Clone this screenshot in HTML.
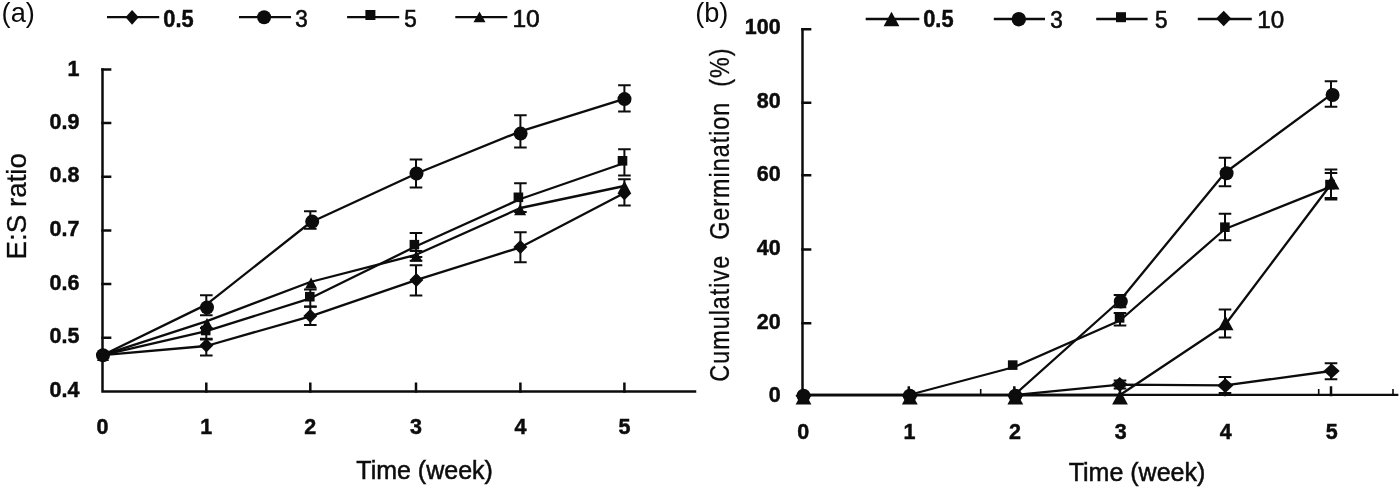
<!DOCTYPE html>
<html lang="en">
<head>
<meta charset="utf-8">
<title>E:S ratio and cumulative germination over time</title>
<style>
html,body{margin:0;padding:0;background:#fff;}
body{width:1400px;height:488px;overflow:hidden;}
svg{display:block;will-change:transform;}
text{font-family:"Liberation Sans",Arial,sans-serif;fill:#0c0c0c;}
.tk{font-size:22.4px;font-weight:bold;stroke:#0c0c0c;stroke-width:0.5px;}
.lgb{font-size:23.2px;font-weight:bold;stroke:#0c0c0c;stroke-width:0.5px;}
.lgr{font-size:23px;stroke:#0c0c0c;stroke-width:0.6px;}
.ttl{font-size:27.8px;stroke:#0c0c0c;stroke-width:0.3px;}
.pl{font-size:27.2px;}
.xt{font-size:25px;stroke:#0c0c0c;stroke-width:0.5px;}
.axis{fill:none;stroke:#0c0c0c;stroke-width:2.5;stroke-linecap:square;}
.thin{fill:none;stroke:#0c0c0c;stroke-width:1.6;}
.ln{fill:none;stroke:#0c0c0c;stroke-width:2.3;stroke-linejoin:round;}
.eb{fill:none;stroke:#0c0c0c;stroke-width:2;}
.mk{fill:#0c0c0c;stroke:none;}
</style>
</head>
<body>
<svg width="1400" height="488" viewBox="0 0 1400 488">
<rect width="1400" height="488" fill="#fff"/>
<g id="chart-a">
<path class="axis" d="M102.5 69.4V391.4H695"/>
<path class="axis" d="M102.5 337.73h7.6M102.5 284.07h7.6M102.5 230.4h7.6M102.5 176.73h7.6M102.5 123.07h7.6M102.5 69.4h7.6M206.3 391.4v-7.6M310.3 391.4v-7.6M416 391.4v-7.6M520.4 391.4v-7.6M624.4 391.4v-7.6"/>
<text class="tk" text-anchor="end" transform="translate(79.4 397.1) scale(0.96 1)">0.4</text>
<text class="tk" text-anchor="end" transform="translate(79.4 343.43) scale(0.96 1)">0.5</text>
<text class="tk" text-anchor="end" transform="translate(79.4 289.77) scale(0.96 1)">0.6</text>
<text class="tk" text-anchor="end" transform="translate(79.4 236.1) scale(0.96 1)">0.7</text>
<text class="tk" text-anchor="end" transform="translate(79.4 182.43) scale(0.96 1)">0.8</text>
<text class="tk" text-anchor="end" transform="translate(79.4 128.77) scale(0.96 1)">0.9</text>
<text class="tk" text-anchor="end" transform="translate(79.4 76) scale(0.96 1)">1</text>
<text class="tk" text-anchor="middle" transform="translate(102.5 434.2) scale(0.96 1)">0</text>
<text class="tk" text-anchor="middle" transform="translate(206.3 434.2) scale(0.96 1)">1</text>
<text class="tk" text-anchor="middle" transform="translate(310.3 434.2) scale(0.96 1)">2</text>
<text class="tk" text-anchor="middle" transform="translate(416 434.2) scale(0.96 1)">3</text>
<text class="tk" text-anchor="middle" transform="translate(520.4 434.2) scale(0.96 1)">4</text>
<text class="tk" text-anchor="middle" transform="translate(624.4 434.2) scale(0.96 1)">5</text>
<path class="ln" d="M102.5 355.2 L206.3 346 L310.3 316.3 L416 280.2 L520.4 247.3 L624.4 193"/>
<g class="eb"><path d="M206.3 338.8V355.5M200 338.8H212.6M200 355.5H212.6"/><path d="M310.3 306.8V325.1M304 306.8H316.6M304 325.1H316.6"/><path d="M416 265.2V295.5M409.7 265.2H422.3M409.7 295.5H422.3"/><path d="M520.4 232.2V262.3M514.1 232.2H526.7M514.1 262.3H526.7"/><path d="M624.4 179.2V205.4M618.1 179.2H630.7M618.1 205.4H630.7"/></g>
<g class="mk"><polygon points="103,348.3 110,355.3 103,362.3 96,355.3"/><polygon points="206.3,338.4 213.3,345.4 206.3,352.4 199.3,345.4"/><polygon points="310.3,309 317.3,316 310.3,323 303.3,316"/><polygon points="416.4,272.9 423.4,279.9 416.4,286.9 409.4,279.9"/><polygon points="520.4,240 527.4,247 520.4,254 513.4,247"/><polygon points="624.4,186.2 631.4,193.2 624.4,200.2 617.4,193.2"/></g>
<path class="ln" d="M102.5 355.2 L206.3 321.3 L310.3 282 L416 254.8 L520.4 208 L624.4 186"/>
<g class="eb"><path d="M416 251V260.7M409.7 251H422.3M409.7 260.7H422.3"/></g>
<g class="mk"><polygon points="103,349.7 109,360.9 97,360.9"/><polygon points="207,317.9 213,329.1 201,329.1"/><polygon points="311.1,277.4 317.1,288.6 305.1,288.6"/><polygon points="416.3,250.4 422.3,261.6 410.3,261.6"/><polygon points="520.1,204 526.1,215.2 514.1,215.2"/><polygon points="624.4,180.7 630.4,191.9 618.4,191.9"/></g>
<path class="ln" d="M102.5 355.2 L206.3 331.2 L310.3 298.3 L416 246.3 L520.4 199 L624.4 163"/>
<g class="eb"><path d="M206.3 328V339.5M200 328H212.6M200 339.5H212.6"/><path d="M310.3 289.5V306.4M304 289.5H316.6M304 306.4H316.6"/><path d="M416 232.9V257M409.7 232.9H422.3M409.7 257H422.3"/><path d="M520.4 183.2V212M514.1 183.2H526.7M514.1 212H526.7"/><path d="M624.4 149.2V175.4M618.1 149.2H630.7M618.1 175.4H630.7"/></g>
<g class="mk"><rect x="98.2" y="350.5" width="9.6" height="9.6"/><rect x="200.9" y="325.7" width="9.6" height="9.6"/><rect x="305" y="291.9" width="9.6" height="9.6"/><rect x="409.6" y="239.9" width="9.6" height="9.6"/><rect x="513.6" y="192.5" width="9.6" height="9.6"/><rect x="617.7" y="156" width="9.6" height="9.6"/></g>
<path class="ln" d="M102.5 355.2 L206.3 304.6 L310.3 222.5 L416 173.7 L520.4 131.4 L624.4 98.8"/>
<g class="eb"><path d="M206.3 295.3V315.2M200 295.3H212.6M200 315.2H212.6"/><path d="M310.3 211.3V228.8M304 211.3H316.6M304 228.8H316.6"/><path d="M416 159.4V187.6M409.7 159.4H422.3M409.7 187.6H422.3"/><path d="M520.4 115.2V147.5M514.1 115.2H526.7M514.1 147.5H526.7"/><path d="M624.4 85.2V111.4M618.1 85.2H630.7M618.1 111.4H630.7"/></g>
<g class="mk"><circle cx="103" cy="355.3" r="7"/><circle cx="207" cy="307.5" r="7"/><circle cx="312.2" cy="221.6" r="7"/><circle cx="416.5" cy="173.5" r="7"/><circle cx="520.6" cy="133.6" r="7"/><circle cx="624.5" cy="99.1" r="7"/></g>
<path class="ln" d="M107 17.2H159.2"/>
<g class="mk"><polygon points="132.1,9.9 138.7,17.3 132.1,24.7 125.5,17.3"/></g>
<text class="lgb" transform="translate(163.3 26.5) scale(0.94 1)">0.5</text>
<path class="ln" d="M239 17.2H291"/>
<g class="mk"><circle cx="264.1" cy="17.3" r="7"/></g>
<text class="lgr" transform="translate(295.3 26.5) scale(0.98 1)">3</text>
<path class="ln" d="M347.1 17.2H399.2"/>
<g class="mk"><rect x="365.4" y="10" width="10" height="10"/></g>
<text class="lgr" transform="translate(404.2 26.5) scale(0.98 1)">5</text>
<path class="ln" d="M455.3 17.2H507.3"/>
<g class="mk"><polygon points="479.5,11.4 485.5,22.2 473.5,22.2"/></g>
<text class="lgr" transform="translate(512.4 26.5) scale(1.07 1)">10</text>
<text class="pl" x="1.6" y="22.4">(a)</text>
<text class="ttl" text-anchor="middle" transform="translate(25.6 206.3) rotate(-90)">E:S ratio</text>
<text class="xt" text-anchor="middle" x="424.6" y="478.6">Time (week)</text>
</g>
<g id="chart-b">
<path class="axis" d="M802.5 29.2V395"/>
<path class="axis" style="stroke-width:2.1" d="M802.5 394.9H1397.3"/>
<path class="axis" d="M802.5 323.3h7.6M802.5 249.5h7.6M802.5 175.2h7.6M802.5 102.8h7.6M802.5 29.2h7.6M908.8 395v-7.6M1014.3 395v-7.6M1120 395v-7.6M1225 395v-7.6M1331 395v-7.6"/>
<path class="thin" d="M980.7 395v-6M1318.7 395v-6M1393 395v-6"/>
<text class="tk" text-anchor="end" transform="translate(780.6 401.9) scale(0.96 1)">0</text>
<text class="tk" text-anchor="end" transform="translate(780.6 328.7) scale(0.96 1)">20</text>
<text class="tk" text-anchor="end" transform="translate(780.6 254.9) scale(0.96 1)">40</text>
<text class="tk" text-anchor="end" transform="translate(780.6 180.6) scale(0.96 1)">60</text>
<text class="tk" text-anchor="end" transform="translate(780.6 108.2) scale(0.96 1)">80</text>
<text class="tk" text-anchor="end" transform="translate(780.6 33.9) scale(0.96 1)">100</text>
<text class="tk" text-anchor="middle" transform="translate(803.2 438.8) scale(0.96 1)">0</text>
<text class="tk" text-anchor="middle" transform="translate(909.5 438.8) scale(0.96 1)">1</text>
<text class="tk" text-anchor="middle" transform="translate(1015 438.8) scale(0.96 1)">2</text>
<text class="tk" text-anchor="middle" transform="translate(1120.7 438.8) scale(0.96 1)">3</text>
<text class="tk" text-anchor="middle" transform="translate(1225.7 438.8) scale(0.96 1)">4</text>
<text class="tk" text-anchor="middle" transform="translate(1331.7 438.8) scale(0.96 1)">5</text>
<path class="ln" style="stroke-width:2.8" d="M802.5 395.2H1120"/>
<path class="ln" d="M1120 395 L1225 325 L1331 184.3"/>
<g class="eb"><path d="M1225 309.4V337.4M1218.7 309.4H1231.3M1218.7 337.4H1231.3"/><path d="M1331 169.4V198M1324.7 169.4H1337.3M1324.7 198H1337.3"/></g>
<g class="mk"><polygon points="803.5,390.1 811.4,404.5 795.6,404.5"/><polygon points="909.8,390.1 917.7,404.5 901.9,404.5"/><polygon points="1015.3,390.1 1023.2,404.5 1007.4,404.5"/><polygon points="1120,390.1 1127.9,404.5 1112.1,404.5"/><polygon points="1225.6,315.8 1233.5,330.2 1217.7,330.2"/><polygon points="1331.6,175.2 1339.5,189.6 1323.7,189.6"/></g>
<path class="ln" d="M1014.3 395 L1120 300.5 L1225 172.7 L1331 94.6"/>
<g class="eb"><path d="M1120 295V307.3M1113.7 295H1126.3M1113.7 307.3H1126.3"/><path d="M1225 157.7V186.2M1218.7 157.7H1231.3M1218.7 186.2H1231.3"/><path d="M1331 81.3V106.8M1324.7 81.3H1337.3M1324.7 106.8H1337.3"/></g>
<g class="mk"><circle cx="803.5" cy="395.8" r="7"/><circle cx="909.8" cy="395.8" r="7"/><circle cx="1015.3" cy="395.8" r="7"/><circle cx="1120.8" cy="301.5" r="7"/><circle cx="1226.6" cy="173.2" r="7"/><circle cx="1332.6" cy="95" r="7"/></g>
<path class="ln" d="M908.8 395 L1014.3 367 L1120 320.5 L1225 229 L1331 186.6"/>
<g class="eb"><path d="M1120 313V325.6M1113.7 313H1126.3M1113.7 325.6H1126.3"/><path d="M1225 213.7V240.2M1218.7 213.7H1231.3M1218.7 240.2H1231.3"/><path d="M1331 173V199.6M1324.7 173H1337.3M1324.7 199.6H1337.3"/></g>
<g class="mk"><rect x="798.7" y="391" width="9.6" height="9.6"/><rect x="905" y="391" width="9.6" height="9.6"/><rect x="1007.9" y="360.3" width="9.6" height="9.6"/><rect x="1114.8" y="313.1" width="9.6" height="9.6"/><rect x="1220.1" y="222.4" width="9.6" height="9.6"/><rect x="1325.2" y="179.8" width="9.6" height="9.6"/></g>
<path class="ln" d="M1014.3 395 L1120 384.6 L1225 385.4 L1331 371"/>
<g class="eb"><path d="M1120 380.5V388.5M1113.7 380.5H1126.3M1113.7 388.5H1126.3"/><path d="M1225 377V393M1218.7 377H1231.3M1218.7 393H1231.3"/><path d="M1331 363.2V379.2M1324.7 363.2H1337.3M1324.7 379.2H1337.3"/></g>
<g class="mk"><polygon points="803.5,388.4 811.6,395.8 803.5,403.2 795.4,395.8"/><polygon points="909.8,388.4 917.9,395.8 909.8,403.2 901.7,395.8"/><polygon points="1015.3,388.4 1023.4,395.8 1015.3,403.2 1007.2,395.8"/><polygon points="1119.7,377 1127.8,384.4 1119.7,391.8 1111.6,384.4"/><polygon points="1225.3,378.2 1233.4,385.6 1225.3,393 1217.2,385.6"/><polygon points="1331.6,363.6 1339.7,371 1331.6,378.4 1323.5,371"/></g>
<path class="ln" d="M865.7 19H919.3"/>
<g class="mk"><polygon points="891.5,11.7 899.4,26.3 883.6,26.3"/></g>
<text class="lgb" transform="translate(923.2 26.9) scale(0.94 1)">0.5</text>
<path class="ln" d="M993.8 19H1045"/>
<g class="mk"><circle cx="1018.8" cy="19.2" r="7.2"/></g>
<text class="lgr" transform="translate(1050.3 28.3) scale(0.98 1)">3</text>
<path class="ln" d="M1096.2 19H1147.6"/>
<g class="mk"><rect x="1116" y="12.2" width="10" height="10"/></g>
<text class="lgr" transform="translate(1155 28.3) scale(0.98 1)">5</text>
<path class="ln" d="M1197.8 19H1251.8"/>
<g class="mk"><polygon points="1223.7,10.7 1231.3,18.5 1223.7,26.3 1216.1,18.5"/></g>
<text class="lgr" transform="translate(1257.2 28.3) scale(1.05 1)">10</text>
<text class="pl" x="695.2" y="22.4">(b)</text>
<text class="ttl" text-anchor="middle" style="white-space:pre" xml:space="preserve" letter-spacing="1.2" transform="translate(729.2 214.5) rotate(-90) scale(0.84 1)">Cumulative  Germination  (%)</text>
<text class="xt" text-anchor="middle" x="1137" y="480.8">Time (week)</text>
</g>
</svg>
</body>
</html>
